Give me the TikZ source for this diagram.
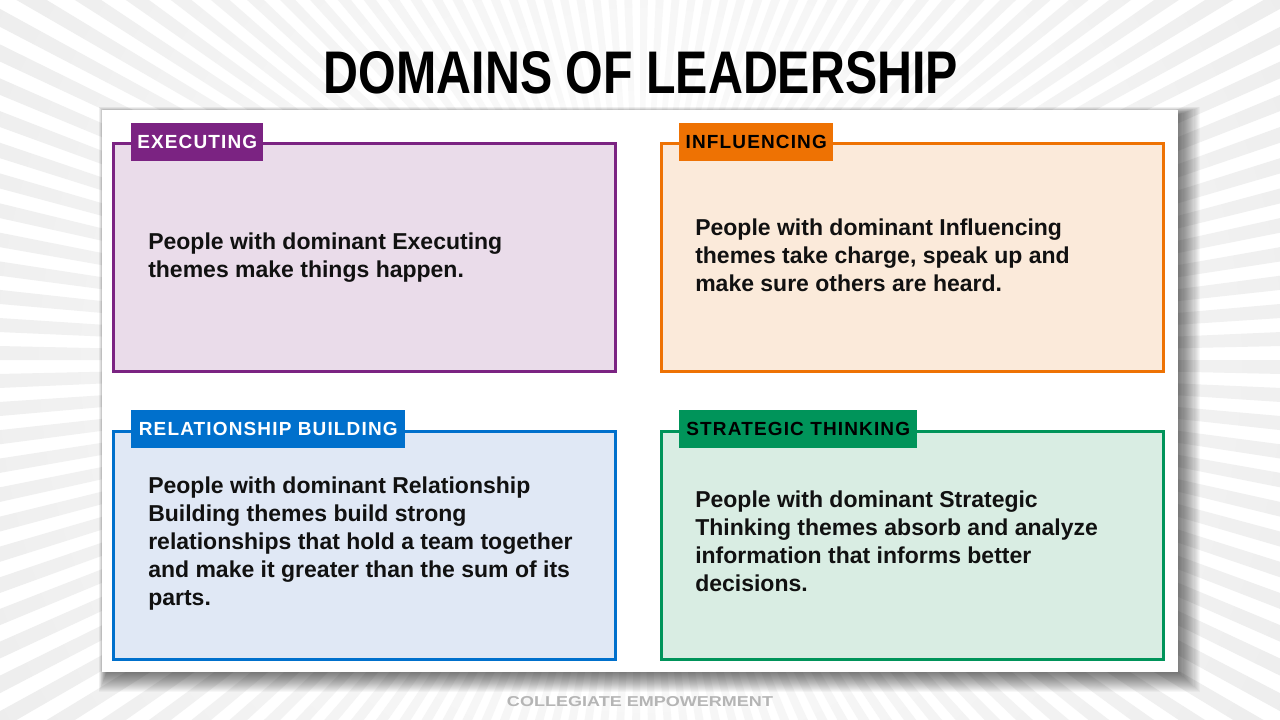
\documentclass[tikz,border=0pt]{standalone}
\usepackage{fontspec}
\setmainfont{Liberation Sans}
\newfontfamily\tabfont[LetterSpace=6]{Liberation Sans}
\usepackage{graphicx}
\definecolor{raygray}{HTML}{D6D6D6}
\definecolor{exeC}{HTML}{7B2382}
\definecolor{exeF}{HTML}{EADCEA}
\definecolor{infC}{HTML}{EE7203}
\definecolor{infF}{HTML}{FBEADA}
\definecolor{relC}{HTML}{0070CC}
\definecolor{relF}{HTML}{E0E8F5}
\definecolor{strC}{HTML}{00945A}
\definecolor{strF}{HTML}{D9EDE3}
\definecolor{bodytext}{HTML}{111111}
\definecolor{footgray}{HTML}{B5B5B5}
\begin{document}
\begin{tikzpicture}[x=0.75pt,y=-0.75pt,
  domainbox/.style={draw, line width=2.25pt, minimum width=376.5pt, minimum height=171pt, inner sep=0pt},
  tabbox/.style={anchor=north west, inner sep=0pt, minimum height=28.5pt,
    font=\tabfont\bfseries\fontsize{14.25}{17}\selectfont},
  bodytxt/.style={anchor=north west, inner sep=0pt, align=left, text=bodytext,
    font=\bfseries\fontsize{17.25}{21}\selectfont}]
\useasboundingbox (0,0) rectangle (1280,720);
\fill[white] (0,0) rectangle (1280,720);
% sunburst background
\begin{scope}
  \clip (0,0) rectangle (1280,720);
  \shade[inner color=white, outer color=raygray]
    foreach \a in {0,2.5,...,357.5} {(640,360) -- +(\a:1700) -- +({\a+1.25}:1700) -- cycle};
\end{scope}
% panel shadow
\foreach \i in {1,...,20} {
  \fill[black, opacity=0.03] ({107-\i*0.4},{115-\i*0.4}) rectangle ({1178+\i*1.1},{672+\i*1.0});
}
% white panel
\node[fill=white, minimum width=807pt, minimum height=421.5pt, inner sep=0pt] (panel) at (640,391) {};
% title
\node[inner sep=0pt] (title) at (641,73) {\resizebox{475.5pt}{31.5pt}{\bfseries DOMAINS OF LEADERSHIP}};
% boxes
\node[domainbox, draw=exeC, fill=exeF] (exe) at (364.5,257.5) {};
\node[domainbox, draw=infC, fill=infF] (inf) at (912.5,257.5) {};
\node[domainbox, draw=relC, fill=relF] (rel) at (364.5,545) {};
\node[domainbox, draw=strC, fill=strF] (str) at (912.5,545) {};
% tabs
\node[tabbox, fill=exeC, text=white, minimum width=99pt] (exetab) at (131,123) {EXECUTING};
\node[tabbox, fill=infC, text=black, minimum width=115.5pt] (inftab) at (679,123) {INFLUENCING};
\node[tabbox, fill=relC, text=white, minimum width=205.5pt] (reltab) at (131,410) {RELATIONSHIP BUILDING};
\node[tabbox, fill=strC, text=black, minimum width=178.5pt] (strtab) at (679,410) {STRATEGIC THINKING};
% texts
\node[bodytxt] (exetxt) at (148,233) {People with dominant Executing\\themes make things happen.};
\node[bodytxt] (inftxt) at (695,218.5) {People with dominant Influencing\\themes take charge, speak up and\\make sure others are heard.};
\node[bodytxt] (reltxt) at (148,477) {People with dominant Relationship\\Building themes build strong\\relationships that hold a team together\\and make it greater than the sum of its\\parts.};
\node[bodytxt] (strtxt) at (695,491) {People with dominant Strategic\\Thinking themes absorb and analyze\\information that informs better\\decisions.};
% footer
\node[inner sep=0pt, text=footgray] (foot) at (640,702) {\resizebox{199.5pt}{7.5pt}{\bfseries COLLEGIATE EMPOWERMENT}};
\end{tikzpicture}
\end{document}
